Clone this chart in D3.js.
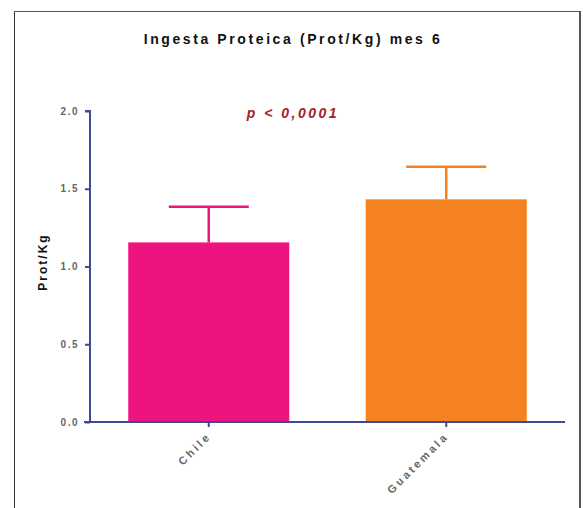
<!DOCTYPE html>
<html>
<head>
<meta charset="utf-8">
<script src="https://cdn.jsdelivr.net/npm/d3@7"></script>
<style>
  html, body { margin: 0; padding: 0; background: #fff; }
  svg { display: block; }
  text { font-family: "Liberation Sans", Arial, sans-serif; font-weight: bold; }
</style>
</head>
<body>
<svg id="chart" width="583" height="508"></svg>
<script>
// Protein intake per kg at month 6, by country (mean and upper error)
const categories = ["Chile", "Guatemala"];
const means = [1.155, 1.432];
const errors = [0.23, 0.21];
const colors = ["#EE1480", "#F58220"];
const yTicks = [0.0, 0.5, 1.0, 1.5, 2.0];

const svg = d3.select("#chart");
const axisColor = "#3D4A96";

// frame
svg.append("line").attr("x1", 14.5).attr("x2", 14.5).attr("y1", 11).attr("y2", 508)
  .attr("stroke", "#333").attr("stroke-width", 1);
svg.append("line").attr("x1", 14).attr("x2", 581).attr("y1", 11.5).attr("y2", 11.5)
  .attr("stroke", "#555").attr("stroke-width", 1);
svg.append("line").attr("x1", 580).attr("x2", 580).attr("y1", 11).attr("y2", 508)
  .attr("stroke", "#555").attr("stroke-width", 2);

const y = d3.scaleLinear().domain([0, 2]).range([422, 111]);
const x = d3.scaleBand().domain(categories).range([90, 565]).paddingInner(0.322).paddingOuter(0.161);

// bars
svg.selectAll("rect.bar").data(categories).enter().append("rect")
  .attr("class", "bar")
  .attr("x", d => x(d))
  .attr("width", x.bandwidth())
  .attr("y", (d, i) => y(means[i]))
  .attr("height", (d, i) => y(0) - y(means[i]))
  .attr("fill", (d, i) => colors[i]);

// error bars (upper only)
categories.forEach((c, i) => {
  const cx = x(c) + x.bandwidth() / 2;
  const top = y(means[i] + errors[i]);
  svg.append("line").attr("x1", cx).attr("x2", cx)
    .attr("y1", y(means[i])).attr("y2", top)
    .attr("stroke", colors[i]).attr("stroke-width", 2.5);
  svg.append("line").attr("x1", cx - 40).attr("x2", cx + 40)
    .attr("y1", top).attr("y2", top)
    .attr("stroke", colors[i]).attr("stroke-width", 2.5);
});

// y axis
const yAxis = d3.axisLeft(y).tickValues(yTicks).tickFormat(d3.format(".1f")).tickSize(5).tickPadding(6);
const gy = svg.append("g").attr("transform", "translate(90,0)").call(yAxis);
gy.select(".domain").attr("stroke", axisColor).attr("stroke-width", 2).attr("d", "M-5,111H0V422");
gy.selectAll(".tick line").attr("stroke", axisColor).attr("stroke-width", 2);
gy.selectAll(".tick text").attr("fill", "#666").attr("font-size", 10)
  .attr("font-family", "Liberation Sans, Arial, sans-serif").attr("font-weight", "bold")
  .style("letter-spacing", "1.5px");

// x axis
const xAxis = d3.axisBottom(x).tickSize(5).tickPadding(4);
const gx = svg.append("g").attr("transform", "translate(0,422)").call(xAxis);
gx.select(".domain").attr("stroke", axisColor).attr("stroke-width", 2).attr("d", "M84,0H565");
gx.selectAll(".tick line").attr("stroke", axisColor).attr("stroke-width", 2);
gx.selectAll(".tick text")
  .attr("fill", "#666").attr("font-size", 11)
  .attr("font-family", "Liberation Sans, Arial, sans-serif").attr("font-weight", "bold")
  .style("letter-spacing", "2.8px")
  .attr("text-anchor", "end")
  .attr("x", 0).attr("y", 0).attr("dy", 0)
  .attr("transform", "translate(3,15) rotate(-45)");

// y label
svg.append("text")
  .attr("transform", "translate(47,262) rotate(-90)")
  .attr("text-anchor", "middle")
  .attr("font-size", 12).attr("fill", "#111")
  .style("letter-spacing", "2px")
  .text("Prot/Kg");

// title
svg.append("text")
  .attr("x", 293).attr("y", 44)
  .attr("text-anchor", "middle")
  .attr("font-size", 14).attr("fill", "#111")
  .style("letter-spacing", "2.6px")
  .text("Ingesta Proteica (Prot/Kg) mes 6");

// significance
svg.append("text")
  .attr("x", 293).attr("y", 118)
  .attr("text-anchor", "middle")
  .attr("font-size", 14).attr("fill", "#A8201E")
  .attr("font-style", "italic")
  .style("letter-spacing", "2.5px")
  .text("p < 0,0001");
</script>
</body>
</html>
